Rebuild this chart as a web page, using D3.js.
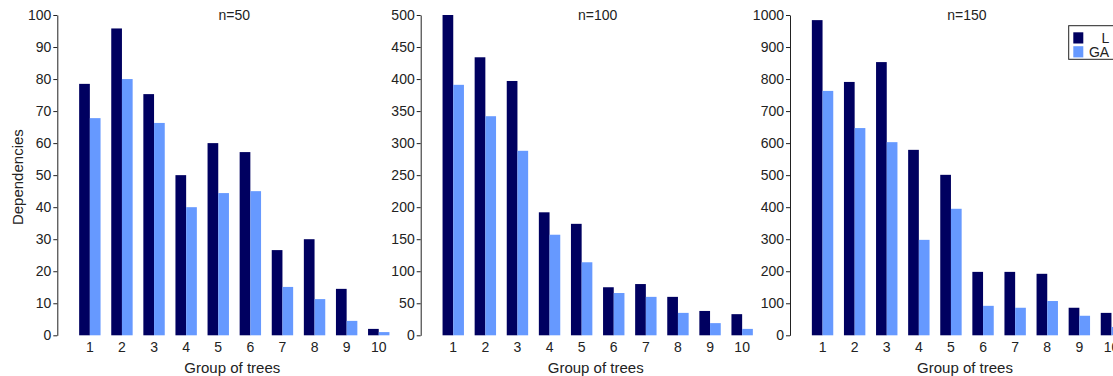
<!DOCTYPE html>
<html>
<head>
<meta charset="utf-8">
<script src="https://cdn.jsdelivr.net/npm/d3@7"></script>
<style>
  html, body { margin: 0; padding: 0; background: #fff; }
  svg { display: block; font-family: "Liberation Sans", Arial, sans-serif; }
</style>
</head>
<body>
<svg id="chart" width="1113" height="376"></svg>
<script>
// Groups of trees on the x axis
const groups = ["1", "2", "3", "4", "5", "6", "7", "8", "9", "10"];
const seriesNames = ["L", "GA"];

// Dependencies per group, for each problem size
const n50L  = [78.5, 95.8, 75.3, 50.0, 60.0, 57.2, 26.6, 30.0, 14.5, 2.0];
const n50GA = [67.8, 80.0, 66.3, 40.0, 44.4, 45.0, 15.1, 11.3, 4.5, 1.0];

const n100L  = [500, 434, 397, 192, 174, 75, 80, 60, 38, 33];
const n100GA = [391, 342, 288, 157, 114, 66, 60, 35, 19, 10];

const n150L  = [984, 791, 853, 579, 501, 198, 198, 192, 86, 70];
const n150GA = [763, 647, 603, 298, 395, 92, 86, 107, 61, 26];

const yTicks50  = [0, 10, 20, 30, 40, 50, 60, 70, 80, 90, 100];
const yTicks100 = [0, 50, 100, 150, 200, 250, 300, 350, 400, 450, 500];
const yTicks150 = [0, 100, 200, 300, 400, 500, 600, 700, 800, 900, 1000];

const panels = [
  { title: "n=50",  L: n50L,  GA: n50GA,  max: 100,  ticks: yTicks50,  x0: 57.3, yLabel: "Dependencies" },
  { title: "n=100", L: n100L, GA: n100GA, max: 500,  ticks: yTicks100, x0: 420.7 },
  { title: "n=150", L: n150L, GA: n150GA, max: 1000, ticks: yTicks150, x0: 790, legend: true }
];

const colors = { L: "#000060", GA: "#6699ff" };
const textColor = "#222";
const plotTop = 15, plotBottom = 335.3;

const svg = d3.select("#chart");

panels.forEach(p => {
  const g = svg.append("g");

  const x = d3.scaleBand()
    .domain(groups)
    .range([p.x0 + 16.5, p.x0 + 337.5])
    .paddingInner(1 / 3)
    .paddingOuter(1 / 6);

  const xs = d3.scaleBand()
    .domain(seriesNames)
    .range([0, x.bandwidth()]);

  const y = d3.scaleLinear()
    .domain([0, p.max])
    .range([plotBottom, plotTop]);

  // bars
  const grp = g.selectAll("g.grp")
    .data(groups.map((k, i) => ({ k, L: p.L[i], GA: p.GA[i] })))
    .join("g")
    .attr("class", "grp")
    .attr("transform", d => `translate(${x(d.k)},0)`);

  grp.selectAll("rect")
    .data(d => seriesNames.map(s => ({ s, v: d[s] })))
    .join("rect")
    .attr("x", d => xs(d.s))
    .attr("width", xs.bandwidth())
    .attr("y", d => y(d.v))
    .attr("height", d => y(0) - y(d.v))
    .attr("fill", d => colors[d.s]);

  // y axis
  const yAxis = g.append("g")
    .attr("transform", `translate(${p.x0},0)`)
    .call(d3.axisLeft(y).tickValues(p.ticks).tickFormat(d3.format("d"))
      .tickSize(4).tickPadding(2).tickSizeOuter(0));
  yAxis.select(".domain").attr("stroke", "#222");
  yAxis.selectAll(".tick line").attr("stroke", "#222");
  yAxis.selectAll("text").attr("fill", textColor).style("font-size", "14px");

  // x tick labels
  const xAxis = g.append("g")
    .attr("transform", `translate(0,${plotBottom})`)
    .call(d3.axisBottom(x).tickSize(0).tickPadding(7));
  xAxis.select(".domain").remove();
  xAxis.selectAll("text").attr("fill", textColor).style("font-size", "14px");

  const cx = p.x0 + 177;

  g.append("text")
    .attr("x", cx).attr("y", 19.5)
    .attr("text-anchor", "middle")
    .attr("fill", textColor)
    .style("font-size", "14px")
    .text(p.title);

  g.append("text")
    .attr("x", cx - 2).attr("y", 373)
    .attr("text-anchor", "middle")
    .attr("fill", textColor)
    .style("font-size", "15px")
    .text("Group of trees");

  if (p.yLabel) {
    g.append("text")
      .attr("transform", `translate(22.5,${(plotTop + plotBottom) / 2 + 2}) rotate(-90)`)
      .attr("text-anchor", "middle")
      .attr("fill", textColor)
      .style("font-size", "15px")
      .text(p.yLabel);
  }

  if (p.legend) {
    const lg = svg.append("g").attr("transform", "translate(1068.7,25.7)");
    lg.append("rect")
      .attr("x", 0).attr("y", 0)
      .attr("width", 60).attr("height", 33.6)
      .attr("fill", "#fff")
      .attr("stroke", "#222")
      .attr("stroke-width", 1);
    seriesNames.forEach((s, i) => {
      lg.append("rect")
        .attr("x", 4.6).attr("y", 6.6 + i * 13.9)
        .attr("width", 10).attr("height", 11.2)
        .attr("fill", colors[s]);
      lg.append("text")
        .attr("x", 40.5).attr("y", 17 + i * 13.9)
        .attr("text-anchor", "end")
        .attr("fill", textColor)
        .style("font-size", "14px")
        .text(s);
    });
  }
});
</script>
</body>
</html>
